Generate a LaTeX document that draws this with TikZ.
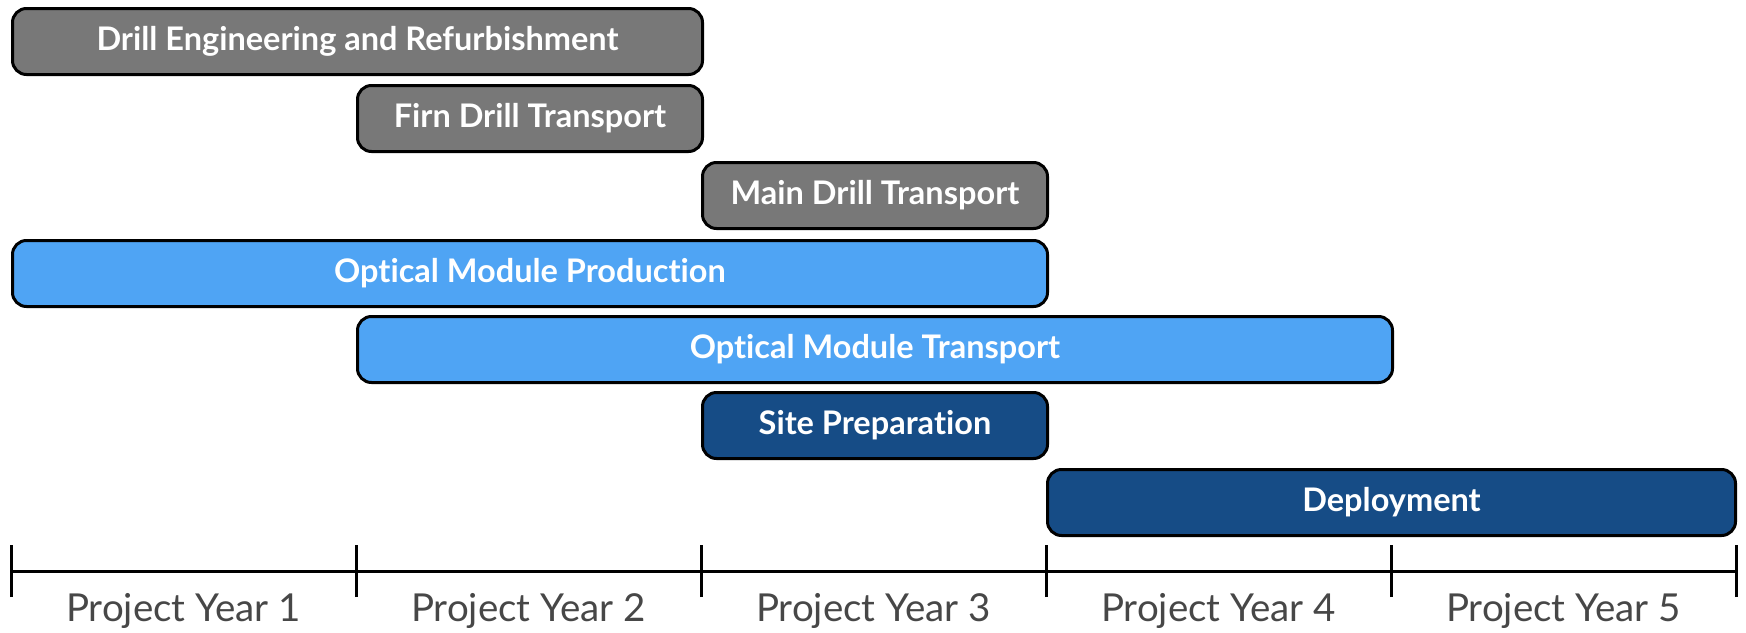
\documentclass[tikz,border=0pt]{standalone}
\usepackage{fontspec}
\setmainfont{Lato}[Ligatures={NoCommon}]
\usetikzlibrary{calc}
\definecolor{barGray}{HTML}{787878}
\definecolor{barLight}{HTML}{4FA4F4}
\definecolor{barDark}{HTML}{164C86}
\definecolor{axisText}{HTML}{474747}
\begin{document}
\begin{tikzpicture}[x=1pt,y=-1pt,
  bar/.style={draw=black, line width=3pt, rounded corners=14pt, anchor=north west,
    minimum height=66pt, inner sep=0pt, text=white,
    font=\fontsize{32.5}{38}\selectfont\bfseries},
  graybar/.style={bar, fill=barGray},
  lightbar/.style={bar, fill=barLight},
  darkbar/.style={bar, fill=barDark},
  yearlbl/.style={font=\fontsize{38.5}{44}\selectfont, text=axisText, anchor=center},
  axisline/.style={line width=3pt, black}]
\useasboundingbox (0,0) rectangle (1746,632);
% year boundaries
\coordinate (t0) at (11,571);
\coordinate (t1) at (356,571);
\coordinate (t2) at (701,571);
\coordinate (t3) at (1046,571);
\coordinate (t4) at (1391,571);
\coordinate (t5) at (1736,571);
% bars
\node[graybar, minimum width=690pt] (b1) at (11,7) {Drill Engineering and Refurbishment};
\node[graybar, minimum width=345pt] (b2) at (356,84) {Firn Drill Transport};
\node[graybar, minimum width=345pt] (b3) at (701,161) {Main Drill Transport};
\node[lightbar, minimum width=1035pt] (b4) at (11,239) {Optical Module Production};
\node[lightbar, minimum width=1035pt] (b5) at (356,315) {Optical Module Transport};
\node[darkbar, minimum width=345pt] (b6) at (701,391) {Site Preparation};
\node[darkbar, minimum width=688pt] (b7) at (1046,468) {Deployment};
% axis
\draw[axisline] (t0) -- (t5);
\foreach \i in {0,...,5}{
  \draw[axisline] ([yshift=-26pt]t\i) -- ([yshift=26pt]t\i);
}
\node[yearlbl] (y1) at ($(t0)!0.5!(t1)+(0,40)$) {Project Year 1};
\node[yearlbl] (y2) at ($(t1)!0.5!(t2)+(0,40)$) {Project Year 2};
\node[yearlbl] (y3) at ($(t2)!0.5!(t3)+(0,40)$) {Project Year 3};
\node[yearlbl] (y4) at ($(t3)!0.5!(t4)+(0,40)$) {Project Year 4};
\node[yearlbl] (y5) at ($(t4)!0.5!(t5)+(0,40)$) {Project Year 5};
\end{tikzpicture}
\end{document}
